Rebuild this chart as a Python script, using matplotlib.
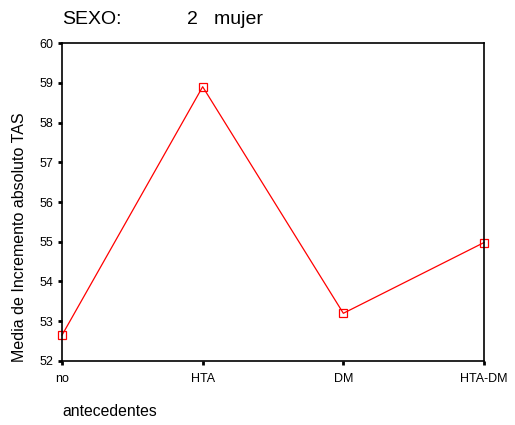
import matplotlib
matplotlib.use('Agg')
import matplotlib.pyplot as plt

plt.rcParams['font.family'] = ['Liberation Sans', 'DejaVu Sans']

# data
categories = ['no', 'HTA', 'DM', 'HTA-DM']
means = [52.65, 58.9, 53.2, 54.98]
y_ticks = [52, 53, 54, 55, 56, 57, 58, 59, 60]

fig = plt.figure(figsize=(5.15, 4.25), dpi=100)
ax = fig.add_axes([0.1204, 0.1506, 0.8194, 0.7482])

x = list(range(len(categories)))
ax.plot(x, means, color='red', linewidth=0.9, marker='s', markersize=6,
        markerfacecolor='none', markeredgecolor='red', markeredgewidth=0.9,
        clip_on=False)

ax.set_xlim(0, len(categories) - 1)
ax.set_ylim(52, 60)
ax.set_xticks(x)
ax.set_xticklabels(categories, fontsize=9)
ax.set_yticks(y_ticks)
ax.set_yticklabels([str(v) for v in y_ticks], fontsize=9)
ax.tick_params(direction='out', length=3, width=2, pad=3)
ax.tick_params(axis='x', pad=6)

for s in ax.spines.values():
    s.set_linewidth(1.2)

fig.text(0.037, 1 - 362 / 425, 'Media de Incremento absoluto TAS', fontsize=11.5,
         rotation=90, ha='center', va='bottom')
fig.text(0.1204, 1 - 412 / 425, 'antecedentes', fontsize=11.3, ha='left', va='center')
fig.text(0.1204, 1 - 19 / 425, 'SEXO:', fontsize=14, ha='left', va='center')
fig.text(187 / 515, 1 - 19 / 425, '2   mujer', fontsize=14, ha='left', va='center')

plt.savefig('out.png', dpi=100)
